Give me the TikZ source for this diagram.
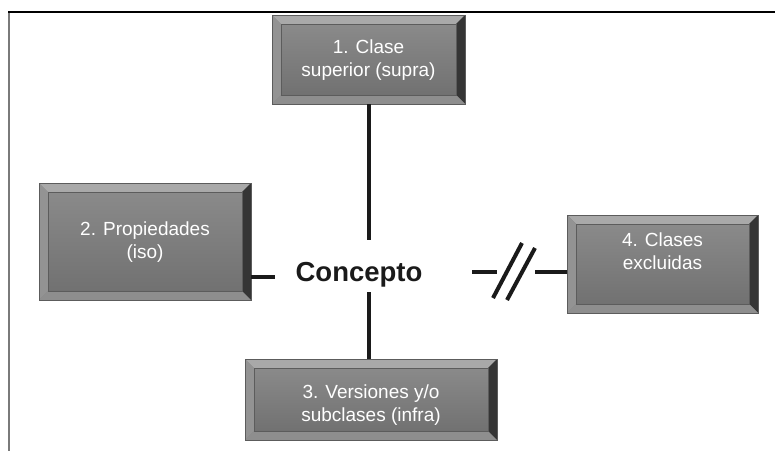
\documentclass[tikz,border=0pt]{standalone}
\usepackage{fontspec}
\setmainfont{Liberation Sans}
\definecolor{bevtop}{HTML}{A9A9A9}
\definecolor{bevleft}{HTML}{939393}
\definecolor{bevright}{HTML}{353535}
\definecolor{bevbot}{HTML}{8E8E8E}
\definecolor{facetop}{HTML}{8A8A8A}
\definecolor{facebot}{HTML}{717171}
\definecolor{boxline}{HTML}{5C5C5C}
\definecolor{linecol}{HTML}{1A1A1A}
\definecolor{framegray}{HTML}{7A7A7A}
\tikzset{
  bevelbox/.style={
    rectangle, inner sep=0pt, draw=boxline, line width=0.8pt, fill=facebot,
    path picture={
      \coordinate (pNW) at (path picture bounding box.north west);
      \coordinate (pNE) at (path picture bounding box.north east);
      \coordinate (pSW) at (path picture bounding box.south west);
      \coordinate (pSE) at (path picture bounding box.south east);
      \fill[bevtop] (pNW) -- (pNE) -- ([shift={(-9pt,-9pt)}]pNE) -- ([shift={(9pt,-9pt)}]pNW) -- cycle;
      \fill[bevright] (pNE) -- (pSE) -- ([shift={(-9pt,9pt)}]pSE) -- ([shift={(-9pt,-9pt)}]pNE) -- cycle;
      \fill[bevbot] (pSE) -- (pSW) -- ([shift={(9pt,9pt)}]pSW) -- ([shift={(-9pt,9pt)}]pSE) -- cycle;
      \fill[bevleft] (pSW) -- (pNW) -- ([shift={(9pt,-9pt)}]pNW) -- ([shift={(9pt,9pt)}]pSW) -- cycle;
      \shade[top color=facetop, bottom color=facebot] ([shift={(9pt,-9pt)}]pNW) rectangle ([shift={(-9pt,9pt)}]pSE);
      \draw[boxline, line width=0.6pt] ([shift={(9pt,-9pt)}]pNW) rectangle ([shift={(-9pt,9pt)}]pSE);
    }
  },
  boxtext/.style={text=white, font=\fontsize{19}{23}\selectfont, align=center, inner sep=0pt},
  conn/.style={draw=linecol, line width=4pt},
}
\begin{document}
\begin{tikzpicture}[x=1pt, y=-1pt]
\useasboundingbox (0,0) rectangle (775,451);
% frame
\draw[framegray, line width=2pt] (9,12) -- (9,451);
\draw[black, line width=2pt] (8,12) -- (775,12);

% boxes
\node[bevelbox, minimum width=193pt, minimum height=89pt,
  label={[boxtext, yshift=-1pt]center:1. Clase\\superior (supra)}] (b1) at (368.5,59.5) {};
\node[bevelbox, minimum width=212pt, minimum height=117pt,
  label={[boxtext, yshift=-1pt]center:2. Propiedades\\(iso)}] (b2) at (145,241.5) {};
\node[bevelbox, minimum width=252pt, minimum height=81pt,
  label={[boxtext, yshift=-6pt]center:3. Versiones y/o\\subclases (infra)}] (b3) at (371,399.5) {};
\node[bevelbox, minimum width=191pt, minimum height=98pt,
  label={[boxtext, yshift=13pt]center:4. Clases\\excluidas}] (b4) at (662.5,264) {};

% central concept
\node[font=\fontsize{27.5}{32}\selectfont\bfseries, text=linecol] (c) at (359,275) {Concepto};

% free ends near the concept
\coordinate (e1) at (369,240);
\coordinate (e3) at (369,292);
\coordinate (e2) at (275,277);
\coordinate (e4a) at (472,272);
\coordinate (e4b) at (497,272);
\coordinate (e4c) at (535,272);
\coordinate (s1a) at (493,298);
\coordinate (s1b) at (522,243);
\coordinate (s2a) at (507,300);
\coordinate (s2b) at (535,248);

\draw[conn] (b1.south -| e1) -- (e1);
\draw[conn] (b3.north -| e3) -- (e3);
\draw[conn] (b2.east |- e2) -- (e2);
\draw[conn] (e4a) -- (e4b);
\draw[conn] (s1a) -- (s1b);
\draw[conn] (s2a) -- (s2b);
\draw[conn] (e4c) -- (b4.west |- e4c);
\end{tikzpicture}
\end{document}
